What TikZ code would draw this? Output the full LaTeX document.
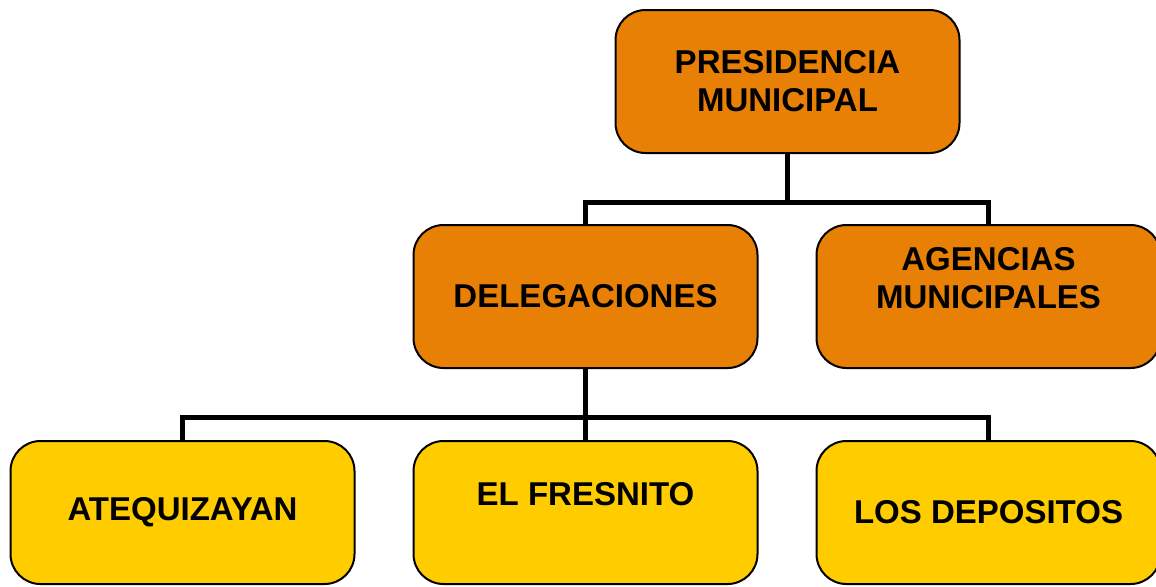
\documentclass[tikz,border=0pt]{standalone}
\usepackage{fontspec}
\setmainfont{Liberation Sans}
\definecolor{boxorange}{RGB}{233,128,6}
\definecolor{boxyellow}{RGB}{255,204,0}
\begin{document}
\begin{tikzpicture}[x=0.5pt,y=-0.5pt,
  unit/.style={draw=black,line width=1pt,rounded corners=15pt,fill=boxorange,
    minimum width=172pt,minimum height=71.5pt,align=center,
    font=\fontsize{16.5}{19}\selectfont\bfseries},
  leaf/.style={unit,fill=boxyellow},
  link/.style={line width=2.5pt}]
\useasboundingbox (0,0) rectangle (1156,586);

\draw (787.5,81.5) node[unit] (pres) {PRESIDENCIA\\MUNICIPAL};
\draw (585.5,296.5) node[unit] (deleg) {DELEGACIONES};
\draw (988.5,296.5) node[unit] (agen) {AGENCIAS\\MUNICIPALES\\ \mbox{}};
\draw (182.5,512.5) node[leaf] (atequi) {ATEQUIZAYAN};
\draw (585.5,512.5) node[leaf] (fresn) {EL FRESNITO\\ \mbox{}};
\draw (988.5,512.5) node[leaf] (depos) {LOS DEPOSITOS};

\coordinate (bus1) at (787.5,202);
\coordinate (bus2) at (585.5,417);
\draw[link] (pres.south) -- (bus1);
\draw[link] (deleg.north) |- (bus1) -| (agen.north);
\draw[link] (deleg.south) -- (bus2);
\draw[link] (atequi.north) |- (bus2) -| (depos.north);
\draw[link] (bus2) -- (fresn.north);
\end{tikzpicture}
\end{document}
